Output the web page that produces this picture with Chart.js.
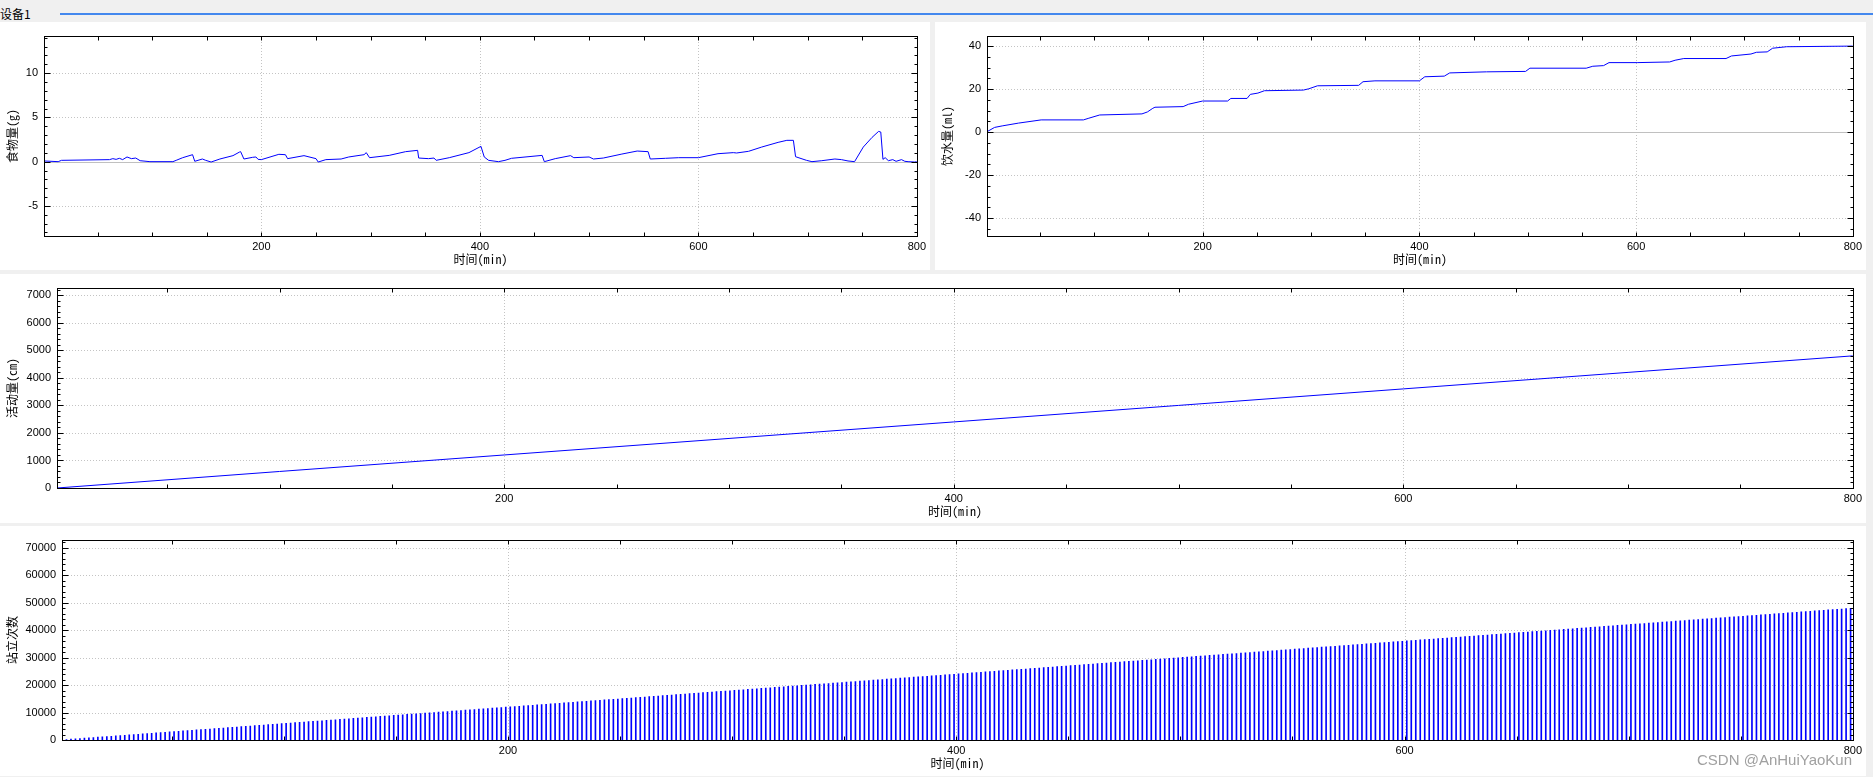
<!DOCTYPE html>
<html>
<head>
<meta charset="utf-8">
<script src="https://cdn.jsdelivr.net/npm/chart.js@4.4.1/dist/chart.umd.min.js"></script>
<style>
  body { margin: 0; width: 1873px; height: 777px; overflow: hidden; background: #f0f0f0; position: relative; }
  .head { position: absolute; left: 0; top: 6px; font: 12px "Noto Sans CJK SC", sans-serif; color: #000; line-height: 16px; }
  .bar { position: absolute; left: 60px; top: 13px; width: 1813px; height: 2px; background: #4488ee; }
  .panel { position: absolute; background: #fff; }
  .panel canvas { display: block; }
  .mark { position: absolute; left: 1697px; top: 751px; font: 15px "Liberation Sans", Arial, sans-serif; color: #a0a0a0; }
</style>
</head>
<body>
<div class="head">设备1</div>
<div class="bar"></div>
<div class="panel" style="left:0;top:22px;width:930px;height:248px"><canvas id="foodChart" width="930" height="248"></canvas></div>
<div class="panel" style="left:935px;top:22px;width:931px;height:248px"><canvas id="waterChart" width="931" height="248"></canvas></div>
<div class="panel" style="left:0;top:274px;width:1866px;height:249px"><canvas id="moveChart" width="1866" height="249"></canvas></div>
<div class="panel" style="left:0;top:526px;width:1866px;height:250px"><canvas id="standChart" width="1866" height="250"></canvas></div>
<div class="mark">CSDN @AnHuiYaoKun</div>
<script>
// x axis (minutes)
const xLabels = [200, 400, 600, 800];

// 食物量 (g)
const foodMinutes = [1, 14, 17, 61, 64, 67, 70, 73, 77, 81, 85, 89, 98, 119, 122, 128, 137, 139, 146, 149,
  154, 162, 174, 180, 181, 184, 192, 195, 197, 200, 216, 222, 224, 239, 250, 252, 259, 273, 280, 294,
  296, 299, 317, 332, 343, 344, 353, 358, 360, 372, 390, 401, 404, 408, 417, 423, 429, 457, 459, 469,
  483, 486, 500, 504, 513, 530, 544, 554, 556, 570, 582, 600, 618, 632, 635, 646, 658, 673, 681, 687,
  689, 699, 704, 713, 725, 731, 737, 743, 751, 759, 765, 767, 769, 771, 774, 778, 781, 786, 789, 792,
  798, 800];
const foodGrams = [0.08, 0.0, 0.15, 0.23, 0.34, 0.26, 0.38, 0.23, 0.53, 0.34, 0.41, 0.11, 0.0, 0.0, 0.15, 0.45, 0.79, 0.04, 0.30, 0.15,
  -0.04, 0.30, 0.68, 1.09, 1.13, 0.30, 0.49, 0.53, 0.26, 0.23, 0.83, 0.79, 0.34, 0.68, 0.34, -0.04, 0.23, 0.30, 0.53, 0.79,
  1.02, 0.45, 0.71, 1.13, 1.28, 0.41, 0.34, 0.41, 0.15, 0.45, 1.02, 1.73, 0.53, 0.15, 0.0, 0.15, 0.38, 0.71, 0.0, 0.34,
  0.68, 0.45, 0.53, 0.30, 0.41, 0.86, 1.20, 1.13, 0.30, 0.38, 0.45, 0.45, 0.90, 1.02, 0.98, 1.17, 1.65, 2.18, 2.41, 2.41,
  0.56, 0.15, 0.0, 0.11, 0.30, 0.23, 0.08, 0.0, 1.65, 2.74, 3.42, 3.35, 0.26, 0.45, 0.11, 0.23, 0.04, 0.23, 0.04, 0.0,
  -0.04, 0.0];
const foodTicks = [-5, 0, 5, 10];

// 饮水量 (ml)
const waterMinutes = [1, 8, 15, 30, 51, 90, 95, 105, 144, 149, 154, 156, 182, 187, 200, 223, 226, 241, 244, 251,
  257, 293, 298, 306, 344, 348, 359, 400, 405, 423, 428, 462, 498, 502, 554, 560, 570, 575, 601, 631,
  636, 644, 683, 688, 706, 711, 721, 726, 739, 800];
const waterMl = [0.2, 2.2, 2.9, 4.2, 5.7, 5.7, 6.5, 8.0, 8.5, 9.4, 11.1, 11.6, 11.9, 13.0, 14.5, 14.5, 15.7, 15.7, 17.6, 18.2,
  19.3, 19.6, 20.2, 21.6, 21.8, 23.5, 23.9, 23.9, 25.8, 26.1, 27.6, 28.1, 28.3, 29.8, 29.8, 30.7, 31.0, 32.4, 32.4, 32.7,
  33.5, 34.3, 34.3, 35.5, 36.4, 37.2, 37.4, 39.1, 39.8, 40.1];
const waterTicks = [-40, -20, 0, 20, 40];

// 活动量 (cm)
const moveMinutes = [1, 100, 200, 300, 400, 500, 600, 700, 800];
const moveCm = [0, 600, 1200, 1800, 2400, 3000, 3600, 4200, 4800];
const moveTicks = [0, 1000, 2000, 3000, 4000, 5000, 6000, 7000];

// 站立次数, one bar every 2 min starting at minute 1
const standCounts = [
  60, 180, 300, 420, 540, 660, 780, 900, 1020, 1140, 1260, 1380, 1500, 1620, 1740, 1860, 1980, 2100, 2220, 2340,
  2460, 2580, 2700, 2820, 2940, 3060, 3180, 3300, 3420, 3540, 3660, 3780, 3900, 4020, 4140, 4260, 4380, 4500, 4620, 4740,
  4860, 4980, 5100, 5220, 5340, 5460, 5580, 5700, 5820, 5940, 6060, 6180, 6300, 6420, 6540, 6660, 6780, 6900, 7020, 7140,
  7260, 7380, 7500, 7620, 7740, 7860, 7980, 8100, 8220, 8340, 8460, 8580, 8700, 8820, 8940, 9060, 9180, 9300, 9420, 9540,
  9660, 9780, 9900, 10020, 10140, 10260, 10380, 10500, 10620, 10740, 10860, 10980, 11100, 11220, 11340, 11460, 11580, 11700, 11820, 11940,
  12060, 12180, 12300, 12420, 12540, 12660, 12780, 12900, 13020, 13140, 13260, 13380, 13500, 13620, 13740, 13860, 13980, 14100, 14220, 14340,
  14460, 14580, 14700, 14820, 14940, 15060, 15180, 15300, 15420, 15540, 15660, 15780, 15900, 16020, 16140, 16260, 16380, 16500, 16620, 16740,
  16860, 16980, 17100, 17220, 17340, 17460, 17580, 17700, 17820, 17940, 18060, 18180, 18300, 18420, 18540, 18660, 18780, 18900, 19020, 19140,
  19260, 19380, 19500, 19620, 19740, 19860, 19980, 20100, 20220, 20340, 20460, 20580, 20700, 20820, 20940, 21060, 21180, 21300, 21420, 21540,
  21660, 21780, 21900, 22020, 22140, 22260, 22380, 22500, 22620, 22740, 22860, 22980, 23100, 23220, 23340, 23460, 23580, 23700, 23820, 23940,
  24060, 24180, 24300, 24420, 24540, 24660, 24780, 24900, 25020, 25140, 25260, 25380, 25500, 25620, 25740, 25860, 25980, 26100, 26220, 26340,
  26460, 26580, 26700, 26820, 26940, 27060, 27180, 27300, 27420, 27540, 27660, 27780, 27900, 28020, 28140, 28260, 28380, 28500, 28620, 28740,
  28860, 28980, 29100, 29220, 29340, 29460, 29580, 29700, 29820, 29940, 30060, 30180, 30300, 30420, 30540, 30660, 30780, 30900, 31020, 31140,
  31260, 31380, 31500, 31620, 31740, 31860, 31980, 32100, 32220, 32340, 32460, 32580, 32700, 32820, 32940, 33060, 33180, 33300, 33420, 33540,
  33660, 33780, 33900, 34020, 34140, 34260, 34380, 34500, 34620, 34740, 34860, 34980, 35100, 35220, 35340, 35460, 35580, 35700, 35820, 35940,
  36060, 36180, 36300, 36420, 36540, 36660, 36780, 36900, 37020, 37140, 37260, 37380, 37500, 37620, 37740, 37860, 37980, 38100, 38220, 38340,
  38460, 38580, 38700, 38820, 38940, 39060, 39180, 39300, 39420, 39540, 39660, 39780, 39900, 40020, 40140, 40260, 40380, 40500, 40620, 40740,
  40860, 40980, 41100, 41220, 41340, 41460, 41580, 41700, 41820, 41940, 42060, 42180, 42300, 42420, 42540, 42660, 42780, 42900, 43020, 43140,
  43260, 43380, 43500, 43620, 43740, 43860, 43980, 44100, 44220, 44340, 44460, 44580, 44700, 44820, 44940, 45060, 45180, 45300, 45420, 45540,
  45660, 45780, 45900, 46020, 46140, 46260, 46380, 46500, 46620, 46740, 46860, 46980, 47100, 47220, 47340, 47460, 47580, 47700, 47820, 47940
];
const standMinutes = standCounts.map((c, i) => 1 + 2 * i);
const standTicks = [0, 10000, 20000, 30000, 40000, 50000, 60000, 70000];

const TICK_FONT = { family: '"Liberation Sans", Arial, sans-serif', size: 11 };
const CJK_FONT = { family: '"Noto Sans Mono CJK SC", "Noto Sans CJK SC", sans-serif', size: 12 };
const BLUE = '#0000ff';

// qwt-like frame: dotted grid, zero line, black box, inward ticks on all sides
const qwtFrame = {
  id: 'qwtFrame',
  beforeDatasetsDraw(chart, args, opts) {
    const { ctx, chartArea: a, scales: { x, y } } = chart;
    ctx.save();
    ctx.lineWidth = 1;
    ctx.strokeStyle = '#c4c4c4';
    ctx.setLineDash([1, 2]);
    ctx.beginPath();
    xLabels.forEach(v => {
      const px = Math.round(x.getPixelForValue(v)) + 0.5;
      if (px > a.right - 2) return;
      ctx.moveTo(px, a.top); ctx.lineTo(px, a.bottom);
    });
    opts.yTicks.forEach(v => {
      if (v === 0) return;
      const py = Math.round(y.getPixelForValue(v)) + 0.5;
      ctx.moveTo(a.left, py); ctx.lineTo(a.right, py);
    });
    ctx.stroke();
    ctx.setLineDash([]);
    if (y.min < 0) {
      const py = Math.round(y.getPixelForValue(0)) + 0.5;
      ctx.strokeStyle = '#c0c0c0';
      ctx.beginPath(); ctx.moveTo(a.left, py); ctx.lineTo(a.right, py); ctx.stroke();
    }
    ctx.restore();
  },
  afterDatasetsDraw(chart, args, opts) {
    const { ctx, chartArea: a, scales: { x, y } } = chart;
    const l = Math.round(a.left) + 0.5, r = Math.round(a.right) + 0.5;
    const t = Math.round(a.top) + 0.5, b = Math.round(a.bottom) + 0.5;
    ctx.save();
    ctx.strokeStyle = '#000';
    ctx.lineWidth = 1;
    ctx.beginPath();
    for (let v = 50; v < 800; v += 50) {
      const px = Math.round(x.getPixelForValue(v)) + 0.5;
      ctx.moveTo(px, t); ctx.lineTo(px, t + 4);
      ctx.moveTo(px, b); ctx.lineTo(px, b - 4);
    }
    const start = Math.ceil(y.min / opts.yMinor) * opts.yMinor;
    for (let v = start; v <= y.max; v += opts.yMinor) {
      const py = Math.round(y.getPixelForValue(v)) + 0.5;
      const len = opts.yTicks.includes(v) ? 6 : 3;
      ctx.moveTo(l, py); ctx.lineTo(l + len, py);
      ctx.moveTo(r, py); ctx.lineTo(r - len, py);
    }
    ctx.stroke();
    ctx.strokeRect(l, t, r - l, b - t);
    ctx.restore();
  }
};

function makeChart(id, type, minutes, values, opt) {
  const points = minutes.map((m, i) => ({ x: m, y: values[i] }));
  const dataset = type === 'bar'
    ? { data: points, backgroundColor: BLUE, borderWidth: 0, barThickness: 1 }
    : { data: points, borderColor: BLUE, borderWidth: 1, pointRadius: 0, tension: 0, fill: false };
  return new Chart(document.getElementById(id), {
    type: type,
    data: { datasets: [dataset] },
    options: {
      responsive: false,
      animation: false,
      events: [],
      layout: { padding: { left: 0, top: 14, right: opt.padRight, bottom: opt.padBottom } },
      plugins: { legend: { display: false }, tooltip: { enabled: false }, qwtFrame: { yTicks: opt.yTicks, yMinor: opt.yMinor } },
      scales: {
        x: {
          type: 'linear', min: 1, max: 800, offset: false,
          grid: { display: false, drawTicks: false }, border: { display: false },
          afterBuildTicks: s => { s.ticks = xLabels.map(v => ({ value: v })); },
          afterFit: s => { s.height = 34; },
          ticks: { font: TICK_FONT, color: '#000', padding: 4, maxRotation: 0, autoSkip: false, callback: v => String(v) },
          title: { display: true, text: '时间(min)', font: CJK_FONT, color: '#000', padding: { top: 0, bottom: 3 } }
        },
        y: {
          min: opt.yMin, max: opt.yMax,
          grid: { display: false, drawTicks: false }, border: { display: false },
          afterBuildTicks: s => { s.ticks = opt.yTicks.map(v => ({ value: v })); },
          afterFit: s => { s.width = opt.axisWidth; },
          ticks: { font: TICK_FONT, color: '#000', padding: 6, callback: v => String(v) },
          title: { display: true, text: opt.title, font: CJK_FONT, color: '#000', padding: { top: 5, bottom: 0 } }
        }
      }
    },
    plugins: [qwtFrame]
  });
}

makeChart('foodChart', 'line', foodMinutes, foodGrams,
  { title: '食物量(g)', yMin: -8.4, yMax: 14.2, yTicks: foodTicks, yMinor: 1, axisWidth: 44, padRight: 10, padBottom: 0 });
makeChart('waterChart', 'line', waterMinutes, waterMl,
  { title: '饮水量(ml)', yMin: -48.4, yMax: 44.8, yTicks: waterTicks, yMinor: 5, axisWidth: 52, padRight: 11, padBottom: 0 });
makeChart('moveChart', 'line', moveMinutes, moveCm,
  { title: '活动量(cm)', yMin: 0, yMax: 7265, yTicks: moveTicks, yMinor: 200, axisWidth: 57, padRight: 11, padBottom: 1 });
makeChart('standChart', 'bar', standMinutes, standCounts,
  { title: '站立次数', yMin: 0, yMax: 72800, yTicks: standTicks, yMinor: 2000, axisWidth: 62, padRight: 11, padBottom: 2 });
</script>
</body>
</html>
